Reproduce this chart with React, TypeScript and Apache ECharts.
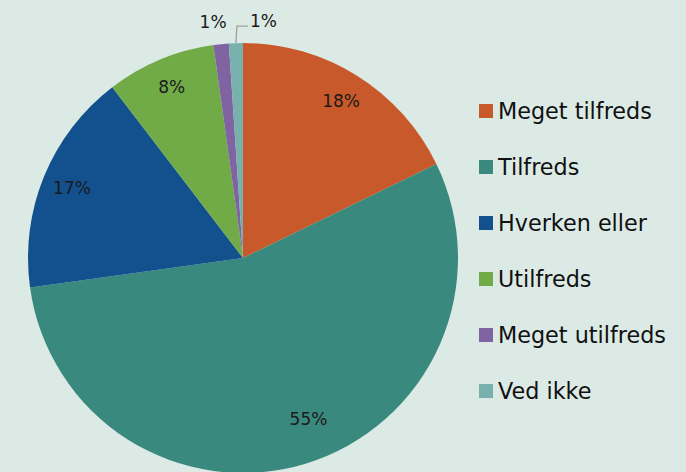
import React, { useEffect, useRef } from "react";
import * as echarts from "echarts";

const categories = ["Meget tilfreds", "Tilfreds", "Hverken eller", "Utilfreds", "Meget utilfreds", "Ved ikke"];
const values = [17.8, 55.0, 16.8, 8.2, 1.15, 1.05];
const colors = ["#c8592a", "#3a897e", "#12518d", "#71ab48", "#8064a2", "#78b0ae"];

const CX = 243;
const CY = 258;
const R = 215;

export default function App() {
  const ref = useRef<HTMLDivElement>(null);
  useEffect(() => {
    if (!ref.current) return;
    const chart = echarts.init(ref.current, null, { renderer: "svg" });
    const total = values.reduce((a, b) => a + b, 0);
    const cum: number[] = [];
    let acc = 0;
    values.forEach((v) => { cum.push(acc); acc += v; });
    const font = "'DejaVu Sans', sans-serif";
    chart.setOption({
      animation: false,
      backgroundColor: "#dceae6",
      color: colors,
      legend: {
        orient: "vertical",
        left: 474,
        top: 95,
        itemWidth: 14,
        itemHeight: 14,
        itemGap: 34,
        icon: "rect",
        textStyle: { fontSize: 22.3, lineHeight: 22, color: "#111", fontFamily: font },
        data: categories,
      },
      series: [
        {
          type: "pie",
          center: [CX, CY],
          radius: [0, R],
          startAngle: 90,
          clockwise: true,
          avoidLabelOverlap: false,
          itemStyle: { borderWidth: 0 },
          label: {
            show: true,
            formatter: (p: any) => Math.round(p.percent) + "%",
            fontSize: 17,
            color: "#1a1a1a",
            fontFamily: font,
          },
          labelLine: { show: true, length: 10, length2: 10, lineStyle: { color: "#a0a0a0", width: 1.3 } },
          emphasis: { disabled: true },
          labelLayout: (p: any) => {
            const i = p.dataIndex;
            const mid = ((cum[i] + values[i] / 2) / total) * Math.PI * 2;
            if (values[i] >= 3) {
              const r = values[i] > 50 ? R * 0.81 : R * 0.86;
              const a = values[i] > 50 ? mid - 0.09 : mid;
              return {
                x: CX + r * Math.sin(a),
                y: CY - r * Math.cos(a),
                align: "center",
                verticalAlign: "middle",
              };
            }
            const ex = CX + R * Math.sin(mid);
            const ey = CY - R * Math.cos(mid);
            if (i === values.length - 1) {
              return {
                x: ex + 14,
                y: ey - 22,
                align: "left",
                verticalAlign: "middle",
                labelLinePoints: [[ex, ey], [ex + 1, ey - 17], [ex + 12, ey - 17]],
              };
            }
            return {
              x: ex - 8,
              y: ey - 22,
              align: "center",
              verticalAlign: "middle",
              labelLinePoints: [[ex, ey], [ex, ey], [ex, ey]],
            };
          },
          data: categories.map((name, i) => ({
            name,
            value: values[i],
            labelLine: { show: i === values.length - 1 },
          })),
        },
      ],
    });
    return () => chart.dispose();
  }, []);
  return (
    <div
      ref={ref}
      style={{ position: "fixed", left: 0, top: 0, width: 686, height: 472 }}
    />
  );
}
